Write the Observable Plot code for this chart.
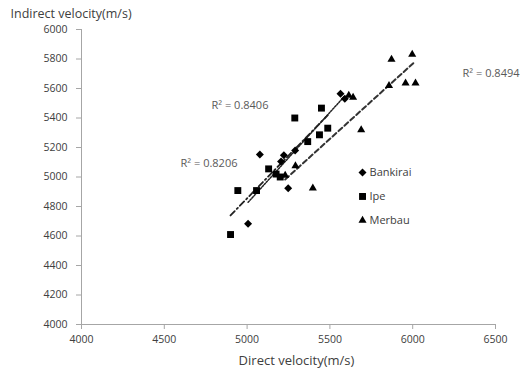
<!DOCTYPE html>
<html>
<head>
<meta charset="utf-8">
<script src="https://cdn.jsdelivr.net/npm/d3@7"></script>
<script src="https://cdn.jsdelivr.net/npm/@observablehq/plot@0.6"></script>
<style>
  html, body { margin: 0; padding: 0; background: #fff; }
  #chart svg { display: block; }
</style>
</head>
<body>
<div id="chart"></div>
<script>
// ---- data ----
const seriesNames = ["Bankirai", "Ipe", "Merbau"];

const bankiraiX = [5006, 5077, 5205, 5222, 5248, 5290, 5564, 5590];
const bankiraiY = [4683, 5153, 5105, 5148, 4924, 5180, 5564, 5530];

const ipeX = [4900, 4944, 5057, 5130, 5175, 5200, 5288, 5366, 5437, 5449, 5487];
const ipeY = [4610, 4908, 4908, 5055, 5020, 5000, 5400, 5240, 5286, 5467, 5331];

const merbauX = [5230, 5292, 5397, 5614, 5640, 5689, 5857, 5872, 5957, 5997, 6017];
const merbauY = [5010, 5075, 4924, 5553, 5540, 5320, 5620, 5797, 5636, 5831, 5636];

const r2Labels = ["R\u00B2 = 0.8406", "R\u00B2 = 0.8206", "R\u00B2 = 0.8494"];
const r2AnchorX = [4785, 4598, 6301];
const r2AnchorY = [5485, 5092, 5702];

const xTicks = [4000, 4500, 5000, 5500, 6000, 6500];
const yTicks = [4000, 4200, 4400, 4600, 4800, 5000, 5200, 5400, 5600, 5800, 6000];

const xTitle = "Direct velocity(m/s)";
const yTitle = "Indirect velocity(m/s)";

// ---- build tables ----
const toRows = (xs, ys, name) => xs.map((x, i) => ({x, y: ys[i], series: name}));
const bankirai = toRows(bankiraiX, bankiraiY, seriesNames[0]);
const ipe = toRows(ipeX, ipeY, seriesNames[1]);
const merbau = toRows(merbauX, merbauY, seriesNames[2]);
const r2Rows = r2Labels.map((t, i) => ({t, x: r2AnchorX[i], y: r2AnchorY[i]}));

// legend anchored in data space (inside the plot, as in the reference)
const legendRows = seriesNames.map((s, i) => ({s, x: 5697, y: 5030 - i * 162}));
const legendSymbols = [d3.symbolDiamond2, d3.symbolSquare, d3.symbolTriangle];
const legendR = [3.6, 3.9, 3.0];

const font = "'Open Sans', Lato, sans-serif";
const textColor = "#404040";
const axisColor = "#a6a6a6";

const chart = Plot.plot({
  width: 526,
  height: 375,
  marginTop: 29,
  marginBottom: 51,
  marginLeft: 81,
  marginRight: 31,
  style: { fontFamily: font, fontSize: "10.5px", color: textColor, background: "#fff" },
  x: { domain: [4000, 6500] },
  y: { domain: [4000, 6000] },
  marks: [
    Plot.ruleX([4000], { stroke: axisColor, strokeWidth: 1 }),
    Plot.ruleY([4000], { stroke: axisColor, strokeWidth: 1 }),
    Plot.axisX({ ticks: xTicks, tickFormat: "d", tickSize: 5, tickPadding: 6, stroke: axisColor, fill: textColor, label: null, fontSize: 10.5 }),
    Plot.axisY({ ticks: yTicks, tickFormat: "d", tickSize: 5, tickPadding: 9, stroke: axisColor, fill: textColor, label: null, fontSize: 10.5 }),
    // trend lines
    Plot.linearRegressionY(ipe, { x: "x", y: "y", ci: 0, stroke: "#222", strokeWidth: 1.8, strokeDasharray: "6,3,1.5,3" }),
    Plot.linearRegressionY(bankirai, { x: "x", y: "y", ci: 0, stroke: "#222", strokeWidth: 1.5, strokeDasharray: "1.5,1.5" }),
    Plot.linearRegressionY(merbau, { x: "x", y: "y", ci: 0, stroke: "#333", strokeWidth: 2, strokeDasharray: "5,3" }),
    // points
    Plot.dot(bankirai, { x: "x", y: "y", symbol: () => d3.symbolDiamond2, r: 3.6, fill: "#000", stroke: "none" }),
    Plot.dot(ipe, { x: "x", y: "y", symbol: () => d3.symbolSquare, r: 3.9, fill: "#000", stroke: "none" }),
    Plot.dot(merbau, { x: "x", y: "y", symbol: () => d3.symbolTriangle, r: 3.0, fill: "#000", stroke: "none" }),
    // R² labels
    Plot.text(r2Rows, { x: "x", y: "y", text: "t", textAnchor: "start", fill: "#595959", fontSize: 11, clip: false }),
    // legend
    Plot.dot(legendRows, { x: "x", y: "y", symbol: (d, i) => legendSymbols[i], r: (d, i) => legendR[i], fill: "#000", stroke: "none" }),
    Plot.text(legendRows, { x: "x", y: "y", text: "s", textAnchor: "start", dx: 7, fill: textColor, fontSize: 11 }),
    // axis titles
    Plot.text([yTitle], { frameAnchor: "top-left", dx: -71, dy: -20, textAnchor: "start", fill: textColor, fontSize: 12.5 }),
    Plot.text([xTitle], { frameAnchor: "bottom", dx: 8, dy: 40, fill: textColor, fontSize: 13 })
  ],
  r: { type: "identity" },
  symbol: { type: "identity" }
});
document.getElementById("chart").appendChild(chart);
</script>
</body>
</html>
